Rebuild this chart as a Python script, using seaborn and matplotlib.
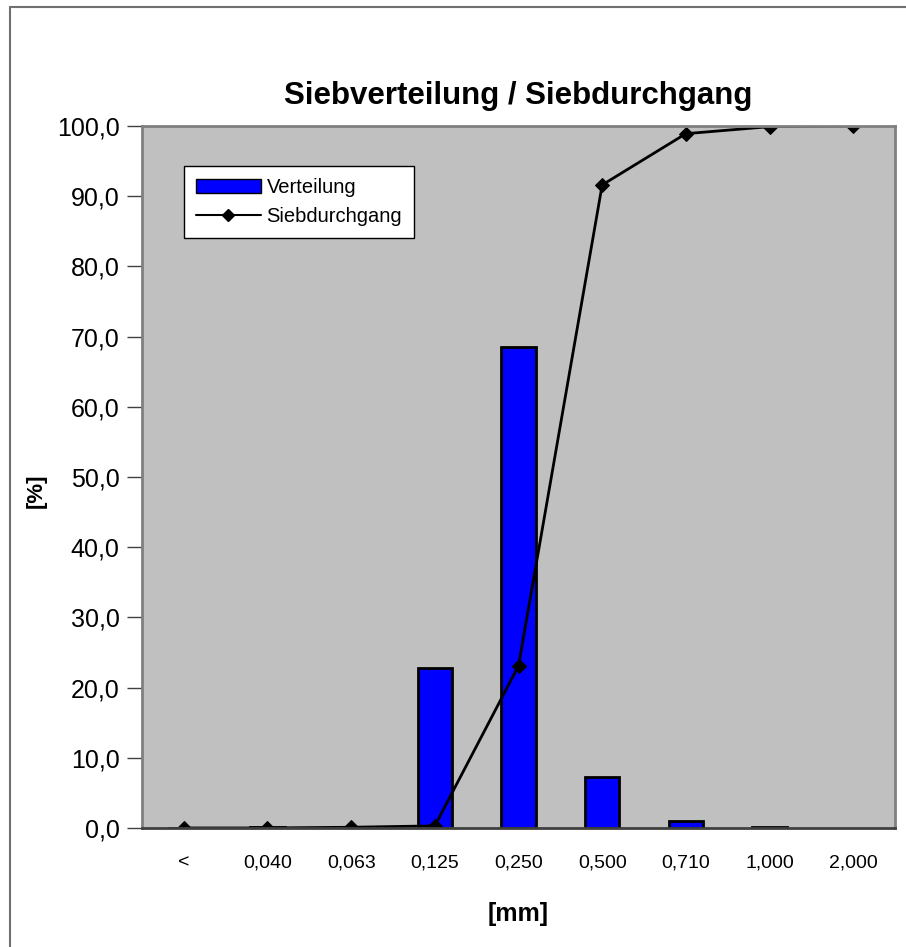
import numpy as np
import pandas as pd
import seaborn as sns
import matplotlib.pyplot as plt
from matplotlib.lines import Line2D
from matplotlib.patches import Patch

sizes = ["<", "0,040", "0,063", "0,125", "0,250", "0,500", "0,710", "1,000", "2,000"]
verteilung = [0.0, 0.1, 0.2, 22.8, 68.5, 7.3, 1.0, 0.1, np.nan]
siebdurchgang = [0.0, 0.0, 0.1, 0.3, 23.1, 91.6, 98.9, 99.9, 100.0]

df = pd.DataFrame({"size": sizes, "verteilung": verteilung, "siebdurchgang": siebdurchgang})
df["pos"] = np.arange(len(sizes))

sns.set_style("white")
plt.rcParams["font.family"] = ["Liberation Sans", "DejaVu Sans"]
plt.rcParams["text.color"] = "black"
plt.rcParams["axes.labelcolor"] = "black"
plt.rcParams["xtick.color"] = "black"
plt.rcParams["ytick.color"] = "black"

fig = plt.figure(figsize=(9.06, 9.47), dpi=100)
ax = fig.add_axes([0.1567, 0.1257, 0.8312, 0.7413])
ax.set_facecolor("#c0c0c0")

sns.barplot(x="pos", y="verteilung", data=df, color="#0000ff", saturation=1,
            width=0.41, edgecolor="black", linewidth=2, ax=ax, native_scale=True)
sns.lineplot(x="pos", y="siebdurchgang", data=df, color="black", linewidth=2,
             marker="D", markersize=7, markeredgecolor="black", ax=ax)

ax.set_xlim(-0.5, len(sizes) - 0.5)
ax.set_ylim(0, 100)
ax.set_yticks(np.arange(0, 101, 10))
ax.set_yticklabels([f"{v:.1f}".replace(".", ",") for v in np.arange(0, 101, 10)], fontsize=18)
ax.set_xticks(df["pos"])
ax.set_xticklabels(sizes, fontsize=14)
ax.set_xticks(np.arange(-0.5, len(sizes)), minor=True)
ax.tick_params(axis="x", which="major", length=0, pad=19)
ax.tick_params(axis="x", which="minor", length=9, width=1, color="#404040")
ax.tick_params(axis="y", which="major", length=11, width=1, color="#404040", left=True, pad=5)

for side in ["top", "right", "left"]:
    ax.spines[side].set_color("#808080")
    ax.spines[side].set_linewidth(2)
ax.spines["bottom"].set_color("#404040")
ax.spines["bottom"].set_linewidth(2)

ax.set_title("Siebverteilung / Siebdurchgang", fontsize=22.5, fontweight="bold", pad=16)
ax.set_xlabel("[mm]", fontsize=18, fontweight="bold", labelpad=22)
ax.set_ylabel("[%]", fontsize=16, fontweight="bold")
ax.yaxis.set_label_coords(-0.126, 0.48)

handles = [Patch(facecolor="#0000ff", edgecolor="black", linewidth=1),
           Line2D([0], [0], color="black", linewidth=1.5, marker="D", markersize=6)]
leg = ax.legend(handles, ["Verteilung", "Siebdurchgang"], loc="upper left",
                bbox_to_anchor=(0.0558, 0.943), borderaxespad=0, fontsize=14.5,
                frameon=True, fancybox=False, framealpha=1, edgecolor="black",
                borderpad=0.6, handlelength=3.2, handletextpad=0.3, labelspacing=0.5)
leg.get_frame().set_linewidth(1)

# outer chart frame (only top and left visible)
fig.add_artist(Line2D([10 / 906, 1], [1 - 7 / 947, 1 - 7 / 947], transform=fig.transFigure, color="#707070", linewidth=1.5))
fig.add_artist(Line2D([10 / 906, 10 / 906], [0, 1 - 7 / 947], transform=fig.transFigure, color="#707070", linewidth=1.5))

fig.savefig("out.png", dpi=100)
